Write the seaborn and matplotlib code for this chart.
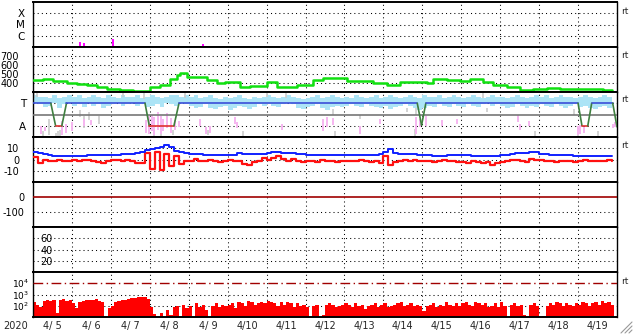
import numpy as np
import pandas as pd
import matplotlib
matplotlib.use("Agg")
import matplotlib.pyplot as plt
import seaborn as sns
from matplotlib.lines import Line2D

sns.set_theme(style="white")
plt.rcParams['font.family'] = ['DejaVu Sans']
plt.rcParams['mathtext.fontset'] = 'dejavusans'
plt.rcParams['axes.unicode_minus'] = False

# ---------------- data (x in day-of-April 2020) ----------------
day_labels = ["4/ 5", "4/ 6", "4/ 7", "4/ 8", "4/ 9", "4/10", "4/11", "4/12",
              "4/13", "4/14", "4/15", "4/16", "4/17", "4/18", "4/19"]

# X-ray flare spikes (panel 1)
xray_day = [6.21, 6.31, 7.055, 9.37]
xray_flux = [3.0e-7, 2.5e-7, 5.0e-7, 1.8e-7]

# Solar wind speed (panel 2)
speed_day = [5.00, 5.26, 5.51, 5.87, 6.13, 6.39, 6.64, 6.90, 7.23, 7.57, 7.83, 8.01, 8.26,
             8.52, 8.70, 8.78, 8.96, 9.29, 9.47, 9.73, 9.93, 10.32, 10.57, 11.01, 11.27,
             11.52, 11.78, 12.19, 12.45, 12.71, 13.07, 13.48, 13.73, 14.09, 14.43, 14.76,
             15.12, 15.27, 15.63, 15.97, 16.23, 16.56, 16.82, 17.18, 17.51, 17.84, 18.20,
             18.54, 18.87, 19.31, 19.64, 19.87]
speed_kms = [433, 444, 422, 403, 389, 374, 352, 330, 319, 315, 315, 352, 378,
             441, 489, 507, 470, 462, 433, 403, 414, 352, 367, 408, 352,
             352, 378, 433, 459, 452, 426, 419, 403, 378, 414, 414,
             403, 441, 433, 422, 444, 414, 378, 352, 322, 330, 344,
             330, 333, 330, 322, 315]

# status panel (panel 3): T = 3, A = 1
ta_day = [5.00, 5.458, 5.58, 5.74, 5.86, 7.877, 7.987, 8.62, 8.75,
          14.87, 14.98, 15.09, 19.00, 19.10, 19.25, 19.35, 19.89, 20.00]
ta_val = [3, 3, 1, 1, 3, 3, 1, 1, 3,
          3, 1.05, 3, 3, 1, 1, 3, 3, 0.9]

cyan_hi = [3.7, 3.6, 3.6, 3.5, 3.7, 3.5, 3.6, 3.7, 3.6, 3.7, 3.5, 3.6, 3.7, 3.6, 3.5, 3.7,
           3.6, 3.5, 3.7, 3.6, 3.6, 3.7, 3.5, 3.6, 3.7, 3.6, 3.5, 3.6, 3.7, 3.7, 3.6, 3.7,
           3.6, 3.7, 3.5, 3.6, 3.7, 3.5, 3.4, 3.6, 3.5, 3.6, 3.7, 3.5, 3.4, 3.6, 3.5, 3.6,
           3.7, 3.6, 3.5, 3.6, 3.7, 3.6, 3.5, 3.4, 3.5, 3.6, 3.7, 3.5, 3.6, 3.7, 3.6, 3.5,
           3.6, 3.5, 3.7, 3.6, 3.5, 3.6, 3.7, 3.5, 3.6, 3.7, 3.6, 3.5, 3.6, 3.7, 3.6, 3.5,
           3.7, 3.6, 3.6, 3.7, 3.5, 3.6, 3.7, 3.6, 3.5, 3.6, 3.7, 3.6, 3.5, 3.6, 3.7, 3.6,
           3.6, 3.5, 3.6, 3.7, 3.6, 3.5, 3.6, 3.7, 3.6, 3.7, 3.5, 3.6, 3.7, 3.6, 3.6, 3.5,
           3.6, 3.7, 3.6, 3.5, 3.6, 3.7, 3.6, 3.5]
cyan_lo = [3.0, 2.9, 2.7, 2.8, 3.0, 2.6, 2.9, 3.0, 2.8, 2.9, 2.7, 3.0, 2.8, 2.9, 2.6, 2.8,
           2.9, 3.0, 2.8, 2.9, 3.0, 2.8, 2.9, 2.7, 2.8, 2.9, 2.7, 3.0, 2.9, 2.8, 3.0, 2.9,
           2.8, 2.6, 2.7, 2.9, 2.6, 2.5, 2.7, 2.8, 2.4, 2.6, 2.8, 2.7, 2.5, 2.7, 2.9, 2.8,
           2.9, 2.8, 2.7, 2.9, 3.0, 2.9, 2.6, 2.5, 2.7, 2.8, 2.9, 2.6, 2.4, 2.7, 2.8, 2.7,
           2.8, 2.9, 2.8, 2.7, 2.9, 2.8, 2.7, 2.6, 2.8, 2.5, 2.7, 2.8, 2.9, 2.8, 2.6, 2.4,
           2.6, 2.8, 2.7, 2.9, 2.8, 2.7, 2.9, 2.8, 2.7, 2.9, 2.8, 2.7, 2.9, 3.0, 2.8, 2.9,
           2.8, 2.6, 2.7, 2.9, 2.8, 2.6, 2.8, 2.7, 2.9, 2.8, 2.7, 2.9, 2.8, 2.6, 2.8, 2.9,
           2.7, 2.8, 2.6, 2.5, 2.7, 2.8, 2.6, 2.3]

pink_day = [5.2, 5.3, 5.75, 5.85, 6.0, 6.3, 6.5, 7.9, 7.98, 8.05, 8.12, 8.2, 8.28, 8.35,
            8.45, 8.55, 8.65, 8.75, 9.3, 9.45, 9.55, 10.2, 10.25, 11.4, 12.45, 12.55,
            12.7, 13.4, 13.9, 14.85, 14.95, 15.1, 15.5, 15.9, 17.45, 17.5, 17.75, 19.0,
            19.05, 19.15, 19.9, 19.95]
pink_lo = [0.3, 0.5, 0.2, 0.4, 0.5, 1.0, 1.1, 0.4, 0.3, 0.5, 0.2, 0.6, 0.3, 0.5,
           0.8, 0.4, 0.6, 0.9, 1.0, 0.3, 0.4, 1.2, 0.8, 0.6, 0.5, 0.9,
           1.1, 0.3, 1.2, 0.3, 0.9, 1.0, 1.0, 1.2, 1.3, 0.6, 1.0, 0.2,
           0.3, 0.4, 0.8, 0.9]
pink_hi = [1.0, 0.9, 1.4, 1.2, 1.3, 1.6, 1.5, 1.5, 1.9, 2.0, 1.8, 2.2, 1.9, 1.6,
           2.1, 1.7, 1.5, 1.4, 1.6, 0.9, 1.0, 1.8, 1.3, 1.2, 1.6, 1.8,
           1.7, 1.0, 1.6, 1.8, 1.6, 1.9, 1.5, 1.6, 2.0, 1.2, 1.4, 1.0,
           1.1, 0.9, 1.2, 1.3]

grey_day = [5.02, 5.1, 5.25, 5.4, 5.6, 5.65, 5.7, 6.2, 6.3, 6.45, 6.7, 7.3, 7.85, 8.1,
            8.3, 8.6, 8.9, 9.5, 10.4, 11.0, 11.5, 12.7, 12.75, 13.4, 14.6, 14.8, 14.85,
            16.55, 16.65, 17.9, 18.9, 19.0, 19.5]
grey_lo = [3.5, 3.6, 0.0, 0.2, 0.0, 0.0, 0.1, 1.8, 0.8, 1.5, 1.2, 3.6, 3.4, 0.0,
           0.1, 0.2, 3.5, 0.2, 0.0, 3.6, 3.5, 2.0, 0.1, 1.6, 2.2, 0.0, 2.0,
           3.5, 2.2, 0.0, 2.0, 0.0, 0.0]
grey_hi = [3.9, 3.9, 0.5, 1.6, 0.4, 0.5, 0.6, 2.4, 1.9, 2.2, 1.9, 3.9, 3.9, 0.7,
           0.5, 0.6, 3.9, 0.6, 0.5, 3.9, 3.9, 2.5, 0.5, 2.0, 2.6, 0.7, 2.6,
           3.9, 2.6, 0.5, 2.5, 0.6, 0.5]

# IMF (panel 4), 3-hourly from 4/5 00:00
bt_nt = [7, 6, 5, 4, 3.5, 3.5, 3.5, 3.5,
         3.5, 3.5, 3.4, 3.6, 3.8, 4, 4, 4,
         4, 4.2, 4.5, 4.9, 5, 5.5, 6.5, 8.5,
         9.5, 10, 11, 12.5, 11, 8, 7, 6,
         5, 4.9, 4.5, 4.2, 4, 4, 4, 4,
         4, 4, 5.5, 5, 4.9, 4.9, 5, 5,
         5.5, 7, 6.5, 5.5, 5.5, 5.5, 5, 4.5,
         4, 4, 4, 4, 4, 4, 4, 4,
         4, 4, 4, 4, 4, 4, 4, 4.5,
         7, 9, 6, 5, 4.9, 4.9, 4.5, 4.2,
         4, 4, 3.5, 3.4, 3.4, 3.6, 4, 4,
         4, 4, 3.5, 3, 3, 3, 3, 3.5,
         4, 4, 5, 5.5, 5.5, 5.5, 6.5, 6.4,
         5, 4.5, 4, 4, 4, 4, 3.8, 3.5,
         3.4, 3.4, 3.4, 3.4, 3.4, 3.4, 3.4, 3.5]
bz_nt = [2, -3, 0, -1, -1.5, -0.5, -1, -1.5,
         -0.5, -1, -0.5, -0.5, -1, -2.5, -3, -1,
         -0.5, -0.5, -1, -0.5, -1, -3, -3.5, 6,
         -8, 7, -9, 5, -6, 3, -4, -1,
         -1, 0.5, -1.5, -1, -0.5, -1, -2, -1,
         -0.5, -1, -1.5, -4, -5, -2, -1, 1,
         0, 1.5, 3, 0.5, -1, 0.5, -1, -2,
         -1, -1, -2, -0.5, -1.5, -1, -2, -1,
         -1, -1.5, -1, -0.5, -1, -2, -1.5, -3,
         3, -5, -2, -1, -0.5, -1, 0, -1,
         -1, -1.5, -2, -1, -0.5, -1.5, -1, -2,
         -2, -3, -1.5, -2.5, -3, -2, -5, -3,
         -2, -1, 0, -0.5, -1, -2, 0.5, 0,
         -0.5, -1, -1.5, -2, -1, -1.5, -1, -2,
         -1, -0.5, -1, -1.5, -1, -1, -0.5, -1]

# electron flux (panel 7), log10, 2-hourly from 4/5 00:00
flux_log = [2.3, 2.1, 1.9, 2.4, 2.5, 2.4, 2.55, 1.4, 2.5, 2.6, 2.4, 2.5,
            2.2, 1.8, 2.3, 2.4, 2.5, 2.55, 2.5, 2.6, 2.4, 2.3, 1.0, 1.8,
            2.0, 2.3, 2.4, 2.5, 2.55, 2.6, 2.65, 2.7, 2.75, 2.8, 2.75, 2.6,
            1.9, 1.3, 1.0, 1.4, 1.0, 1.6, 1.2, 1.9, 2.0, 1.0, 2.1, 1.8,
            2.0, 1.0, 2.2, 1.9, 2.1, 1.6, 1.0, 2.0, 2.2, 1.9, 2.1, 2.0,
            2.1, 2.2, 1.8, 2.3, 2.2, 2.0, 2.4, 2.3, 2.1, 2.2, 2.35, 2.2,
            2.4, 2.3, 2.2, 2.0, 2.35, 2.1, 2.3, 2.2, 1.9, 2.2, 2.0, 2.1,
            1.9, 1.0, 2.0, 2.1, 1.0, 1.2, 2.1, 2.2, 2.1, 1.9, 2.0, 2.1,
            2.2, 2.1, 1.9, 2.2, 2.0, 2.1, 1.7, 2.0, 2.1, 2.2, 1.9, 2.1,
            2.2, 1.9, 2.0, 2.1, 2.2, 2.3, 2.0, 2.1, 2.2, 2.0, 2.1, 2.0,
            1.5, 2.0, 2.1, 2.2, 1.9, 2.1, 2.0, 2.3, 2.1, 2.0, 2.2, 2.0,
            2.2, 2.3, 2.1, 2.0, 2.3, 2.2, 2.1, 2.2, 1.9, 2.0, 2.2, 1.9,
            2.3, 2.0, 1.0, 2.1, 2.2, 2.0, 2.1, 1.2, 1.0, 2.1, 2.2, 2.0,
            1.0, 1.1, 2.0, 2.2, 2.1, 2.3, 2.2, 2.0, 2.2, 2.1, 2.0, 2.2,
            2.1, 2.3, 2.2, 2.0, 2.2, 2.3, 2.1, 2.4, 2.2, 2.3, 2.1, 2.4]

t3 = 5.0 + np.arange(len(bt_nt)) / 8.0
t2 = 5.0 + np.arange(len(flux_log)) / 12.0

# ---------------- figure ----------------
W, H = 633, 334
fig = plt.figure(figsize=(W / 100, H / 100), dpi=100)
fig.patch.set_facecolor('white')
L, R = 33, 617
FS = 7.0
DOT = (0, (1, 3))
axes = []
for k in range(7):
    top = 2 + 45 * k
    ax = fig.add_axes([L / W, 1 - (top + 45) / H, (R - L) / W, 45 / H])
    ax.set_facecolor('white')
    ax.set_xlim(5, 20)
    ax.set_xticks(np.arange(6, 20))
    ax.set_xticklabels([])
    ax.tick_params(length=0, labelsize=FS, colors='black')
    for s in ax.spines.values():
        s.set_color('black')
        s.set_linewidth(1.0)
    ax.spines['top'].set_linewidth(1.4)
    ax.spines['bottom'].set_linewidth(1.4)
    axes.append(ax)

def dotted_grid(ax, yvals):
    for xv in range(6, 20):
        ax.axvline(xv, color='black', lw=0.75, ls=DOT, zorder=1)
    for yv in yvals:
        ax.axhline(yv, color='black', lw=0.75, ls=DOT, zorder=1)

# panel 1: X-ray
ax = axes[0]
ax.set_yscale('log')
ax.set_ylim(1e-7, 1e-3)
ax.set_yticks([1e-4, 1e-5, 1e-6])
ax.set_yticklabels(['X', 'M', 'C'])
ax.yaxis.set_minor_locator(matplotlib.ticker.NullLocator())
ax.tick_params(axis='y', pad=6, labelsize=7.5)
dotted_grid(ax, [1e-4, 1e-5, 1e-6])
ax.vlines(xray_day, 1e-7, xray_flux, color='#ff00ff', lw=1.4, zorder=3)

# panel 2: speed
ax = axes[1]
ax.set_ylim(300, 800)
ax.set_yticks([400, 500, 600, 700])
ax.tick_params(axis='y', pad=10)
dotted_grid(ax, [400, 500, 600, 700])
sdf = pd.DataFrame({'day': speed_day, 'speed': speed_kms})
sns.lineplot(data=sdf, x='day', y='speed', ax=ax, color='#10e010', lw=1.8,
             drawstyle='steps-post', legend=False, zorder=3)

# panel 3: T / A status
ax = axes[2]
ax.set_ylim(0, 4)
ax.set_yticks([3, 1])
ax.set_yticklabels(['T', 'A'])
ax.tick_params(axis='y', pad=5, labelsize=7.5)
dotted_grid(ax, [3, 1])
ax.fill_between(t3, cyan_lo, cyan_hi, step='post', color='#ace4f6', lw=0, zorder=2)
ax.vlines(grey_day, grey_lo, grey_hi, color='#cccccc', lw=1.2, zorder=2)
ax.vlines(pink_day, pink_lo, pink_hi, color='#f6b6f0', lw=1.4, zorder=2)
ax.axhline(2, color='#777777', lw=1.2, zorder=3)
for i in range(len(ta_day) - 1):
    v0, v1 = ta_val[i], ta_val[i + 1]
    if v0 == 3 and v1 == 3:
        c = '#3a4fd8'
    elif v0 == 1 and v1 == 1:
        c = '#e03030'
    else:
        c = '#3f7f3f'
    ax.plot(ta_day[i:i + 2], ta_val[i:i + 2], color=c, lw=1.2, zorder=4)

# panel 4: IMF
ax = axes[3]
ax.set_ylim(-20, 20)
ax.set_yticks([10, 0, -10])
ax.tick_params(axis='y', pad=10)
dotted_grid(ax, [10, 0, -10])
imf = pd.DataFrame({'day': t3, 'Bt': bt_nt, 'Bz': bz_nt})
sns.lineplot(data=imf, x='day', y='Bz', ax=ax, color='#ff1010', lw=1.6,
             drawstyle='steps-post', zorder=3)
sns.lineplot(data=imf, x='day', y='Bt', ax=ax, color='#1020ff', lw=1.4,
             drawstyle='steps-post', zorder=4)

# panel 5: Dst
ax = axes[4]
ax.set_ylim(-200, 100)
ax.set_yticks([0, -100])
ax.tick_params(axis='y', pad=6)
dotted_grid(ax, [-100])
ax.axhline(0, color='#a00000', lw=1.2, zorder=3)

# panel 6
ax = axes[5]
ax.set_ylim(0, 80)
ax.set_yticks([60, 40, 20])
ax.tick_params(axis='y', pad=-14)
dotted_grid(ax, [60, 40, 20])

# panel 7: electron flux
ax = axes[6]
ax.set_yscale('log')
ax.set_ylim(10, 1e5)
ax.set_yticks([1e4, 1e3, 1e2])
ax.set_yticklabels([r'$10^4$', r'$10^3$', r'$10^2$'])
ax.yaxis.set_minor_locator(matplotlib.ticker.NullLocator())
ax.tick_params(axis='y', pad=3, labelsize=6.5)
dotted_grid(ax, [1e3, 1e2])
ax.axhline(1e4, color='#a00000', lw=1.0, ls=(0, (7, 2.5, 1, 2.5)), zorder=3)
ax.fill_between(t2, 10, 10 ** np.array(flux_log), step='post', color='#ff0000', lw=0, zorder=2)
ax.set_xticks(np.arange(5.5, 20, 1.0), minor=True)
ax.set_xticklabels(day_labels, minor=True)
ax.tick_params(axis='x', which='both', length=0, labelsize=FS, pad=3)

for ax in axes:
    ax.set_xlabel('')
    ax.set_ylabel('')
    ax.set_xlim(5, 20)

fig.text(16 / W, 1 - 326 / H, '2020', fontsize=FS, ha='center', va='center')
for yp in [12, 55, 100, 145, 281]:
    fig.text(621 / W, 1 - yp / H, 'rt', fontsize=6.5, ha='left', va='center')

# resize grip
for off in [0, 4, 8]:
    fig.add_artist(Line2D([(621 + off) / W, (632) / W], [1 - 333 / H, 1 - (322 + off) / H],
                          transform=fig.transFigure, color='#999999', lw=0.8))

fig.savefig('out.png', dpi=100, facecolor='white')
